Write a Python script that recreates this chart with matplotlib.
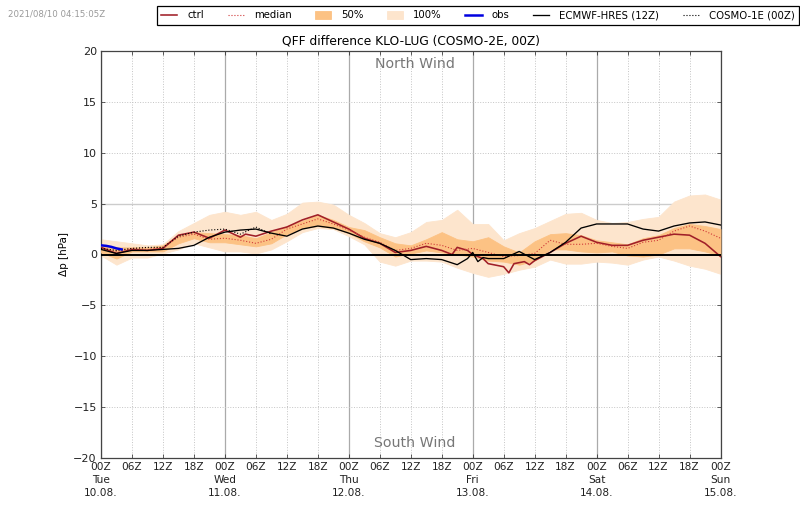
#!/usr/bin/python3
import numpy as np
import matplotlib
matplotlib.use("Agg")
import matplotlib.pyplot as plt
from matplotlib.ticker import MultipleLocator

# forecast hours, every 3h
hours = list(range(0, 123, 3))

median = [0.5, 0.3, 0.6, 0.5, 0.7, 1.7, 2.0, 1.5, 1.6, 1.4, 1.1, 1.5, 2.5, 3.0, 3.5, 3.0, 2.4,
	1.7, 1.2, 0.4, 0.6, 1.1, 0.9, 0.4, 0.6, 0.2, -0.2, -0.1,
	0.1, 1.4, 1.0, 1.0, 1.1, 0.8, 0.6, 1.2, 1.4, 2.3, 2.8, 2.3, 1.6]
p25 = [0.2, -0.4, 0.3, 0.3, 0.3, 1.1, 1.6, 1.2, 1.2, 1.0, 0.8, 1.1, 2.0, 2.6, 2.8, 2.6, 2.1,
	1.3, 0.7, -0.2, 0.1, 0.4, 0.2, 0.0, -0.2, -0.6, -0.7, -1.0,
	-0.6, 0.5, 0.5, 0.3, 0.2, 0.3, -0.1, -0.2, 0.0, 0.6, 0.6, 0.3, -0.1]
p75 = [0.9, 0.7, 0.7, 0.7, 0.9, 1.9, 2.2, 2.1, 2.0, 1.9, 1.6, 2.2, 2.8, 3.3, 3.9, 3.4, 2.7,
	2.4, 1.7, 1.1, 0.9, 1.5, 2.2, 1.5, 1.3, 1.7, 0.8, 0.2,
	1.3, 2.0, 2.1, 1.9, 1.4, 1.2, 1.0, 1.6, 1.9, 2.6, 3.0, 2.8, 2.5]
p0 = [-0.1, -1.0, -0.3, -0.3, 0.1, 0.5, 1.1, 0.7, 0.3, 0.3, 0.1, 0.5, 1.3, 2.2, 2.6, 2.5, 1.8,
	1.0, -0.7, -1.1, -0.6, -0.6, -0.7, -1.3, -1.8, -2.2, -1.9, -1.5,
	-1.2, -0.5, -0.9, -0.9, -0.7, -0.8, -1.0, -0.5, -0.2, -0.6, -1.1, -1.4, -1.9]
p100 = [1.5, 1.3, 1.1, 0.9, 1.0, 2.3, 3.1, 3.9, 4.2, 3.9, 4.2, 3.4, 4.0, 5.1, 5.2, 4.9, 3.9,
	3.1, 2.1, 1.7, 2.2, 3.2, 3.4, 4.4, 3.0, 3.0, 1.4, 2.1,
	2.6, 3.3, 4.0, 4.1, 3.4, 3.1, 3.2, 3.5, 3.7, 5.2, 5.8, 5.9, 5.4]

# ctrl and hres have a few extra points around the wiggles on Fri
ctrl_hours = [0, 3, 6, 9, 12, 15, 18, 21, 24, 27, 28, 30, 33, 36, 39, 42, 45, 48,
	51, 54, 57, 60, 63, 66, 68, 69, 71, 72, 74, 75, 78, 79, 80, 82, 83, 84,
	87, 90, 93, 96, 99, 102, 105, 108, 111, 114, 117, 120]
ctrl = [0.7, 0.1, 0.5, 0.4, 0.6, 1.9, 2.2, 1.6, 2.4, 1.7, 2.0, 1.8, 2.3, 2.7, 3.4, 3.9, 3.2, 2.5,
	1.6, 1.1, 0.2, 0.4, 0.8, 0.4, 0.0, 0.7, 0.4, 0.0, -0.4, -0.9, -1.2, -1.8, -0.9, -0.7, -1.0, -0.6,
	0.2, 1.1, 1.8, 1.2, 0.9, 0.9, 1.4, 1.7, 2.0, 1.9, 1.1, -0.2]
hres_hours = [0, 3, 6, 9, 12, 15, 18, 21, 24, 27, 30, 33, 36, 39, 42, 45, 48,
	51, 54, 57, 60, 63, 66, 69, 71, 72, 73, 74, 75, 78, 81, 84,
	87, 90, 93, 96, 99, 102, 105, 108, 111, 114, 117, 120]
hres = [0.5, 0.1, 0.4, 0.4, 0.5, 0.6, 0.9, 1.7, 2.2, 2.4, 2.5, 2.1, 1.8, 2.5, 2.8, 2.6, 2.1,
	1.5, 1.1, 0.4, -0.5, -0.4, -0.5, -1.0, -0.4, 0.2, -0.7, -0.3, -0.4, -0.4, 0.3, -0.5,
	0.2, 1.2, 2.6, 3.0, 3.0, 3.0, 2.5, 2.3, 2.8, 3.1, 3.2, 2.9]

# cosmo-1 only runs to +33h
c1e_hours = [0, 3, 6, 9, 12, 15, 18, 21, 24, 27, 30, 33]
c1e = [0.6, 0.4, 0.6, 0.7, 0.7, 1.8, 2.2, 2.4, 2.5, 2.0, 2.7, 2.0]

obs_hours = [0, 1, 2, 3, 4]
obs = [0.9, 0.85, 0.75, 0.6, 0.5]

tick_hours = list(range(0, 126, 6))
day_labels = ["00Z\nTue\n10.08.", "00Z\nWed\n11.08.", "00Z\nThu\n12.08.",
	"00Z\nFri\n13.08.", "00Z\nSat\n14.08.", "00Z\nSun\n15.08."]
hour_labels = ["06Z", "12Z", "18Z"]


def tick_label(h):
	if h % 24 == 0:
		return day_labels[h // 24]
	return hour_labels[(h % 24) // 6 - 1]


plt.rcParams["font.size"] = 8
fig = plt.figure(figsize=(8.0, 5.09), dpi=100)
ax = fig.add_axes([101 / 800, 1 - 458 / 509, 619.5 / 800, 407 / 509])

ax.fill_between(hours, p0, p100, color="#fde5cd", lw=0.6, label="100%", zorder=2)
ax.fill_between(hours, p25, p75, color="#fcc284", lw=0.6, label="50%", zorder=3)
ax.plot(ctrl_hours, ctrl, color="#a01f28", lw=1.15, label="ctrl", zorder=4)
ax.plot(hours, median, color="#d03a3a", lw=0.8, ls=":", label="median", zorder=4)
ax.plot(obs_hours, obs, color="#0000e0", lw=1.8, label="obs", zorder=6)
ax.plot(hres_hours, hres, color="black", lw=0.95, label="ECMWF-HRES (12Z)", zorder=5)
ax.plot(c1e_hours, c1e, color="black", lw=0.8, ls=":", label="COSMO-1E (00Z)", zorder=5)
ax.axhline(0, color="black", lw=1.4, zorder=5)

ax.set_xlim(0, 120)
ax.set_ylim(-20, 20)
ax.yaxis.set_major_locator(MultipleLocator(5))
ax.set_xticks(tick_hours)
ax.set_xticklabels([tick_label(h) for h in tick_hours], linespacing=1.35)
ax.tick_params(direction="in", length=3, width=0.5, top=True, right=True, pad=3, colors="#222222")
for lab in ax.get_xticklabels():
	lab.set_fontsize(7.6)

# grid: solid for days, dotted for the rest
for h in tick_hours:
	if h % 24 == 0:
		ax.axvline(h, color="#aaaaaa", lw=0.9, zorder=1)
	else:
		ax.axvline(h, color="#c4c4c4", lw=0.7, ls=":", zorder=1)
for y in range(-15, 20, 5):
	if y == 5:
		ax.axhline(y, color="#cccccc", lw=1.0, zorder=1)
	elif y != 0:
		ax.axhline(y, color="#c4c4c4", lw=0.7, ls=":", zorder=1)

for s in ax.spines.values():
	s.set_linewidth(0.9)
	s.set_color("#444444")

ax.set_ylabel("\u0394p [hPa]", fontsize=7.5, labelpad=3)
ax.set_title("QFF difference KLO-LUG (COSMO-2E, 00Z)", fontsize=8.8, pad=5)
ax.text(0.506, 0.968, "North Wind", transform=ax.transAxes, ha="center", va="center",
	fontsize=10.2, color="#777777")
ax.text(0.506, 0.037, "South Wind", transform=ax.transAxes, ha="center", va="center",
	fontsize=10.2, color="#777777")

fig.text(8 / 800, 1 - 14 / 509, "2021/08/10 04:15:05Z", fontsize=6.2, color="#999999",
	ha="left", va="center")

# legend order as in the original
handles, labels = ax.get_legend_handles_labels()
order = ["ctrl", "median", "50%", "100%", "obs", "ECMWF-HRES (12Z)", "COSMO-1E (00Z)"]
by_label = dict(zip(labels, handles))
leg = fig.legend([by_label[k] for k in order], order, ncol=7, loc="center",
	bbox_to_anchor=(478 / 800, 1 - 15.5 / 509), fontsize=7.3, fancybox=False, framealpha=1,
	edgecolor="black", borderpad=0.4, handlelength=1.6, columnspacing=2.3, handletextpad=1.0)
leg.get_frame().set_linewidth(0.9)

fig.savefig("out.png", dpi=100)
